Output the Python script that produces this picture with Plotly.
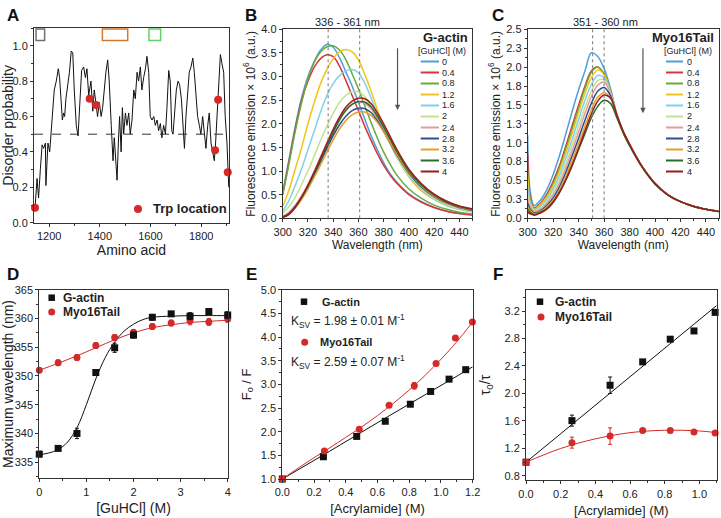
import plotly.graph_objects as go

# ---------------- Panel A: disorder profile ----------------
residue = [1143, 1145, 1152, 1158, 1165, 1172, 1178, 1185, 1187, 1195, 1202, 1211, 1220, 1228, 1236,
           1241, 1247, 1252, 1257, 1261, 1266, 1274, 1280, 1287, 1293, 1299, 1307, 1314, 1320, 1328,
           1336, 1343, 1349, 1356, 1365, 1372, 1378, 1385, 1391, 1398, 1405, 1411, 1418, 1424, 1431,
           1437, 1445, 1452, 1457, 1462, 1468, 1473, 1478, 1484, 1489, 1494, 1501, 1507, 1514, 1520,
           1527, 1534, 1540, 1547, 1553, 1560, 1566, 1573, 1580, 1586, 1593, 1599, 1606, 1613, 1619,
           1626, 1632, 1639, 1645, 1652, 1659, 1665, 1672, 1678, 1684, 1689, 1695, 1702, 1709, 1715,
           1722, 1728, 1734, 1740, 1747, 1753, 1760, 1767, 1773, 1780, 1786, 1793, 1799, 1806, 1813,
           1819, 1826, 1832, 1839, 1846, 1852, 1857, 1863, 1869, 1876, 1882, 1889, 1895, 1902, 1909]
disorder = [0.09, 0.10, 0.25, 0.14, 0.30, 0.44, 0.42, 0.45, 0.21, 0.45, 0.40, 0.60, 0.75, 0.80, 0.87,
            0.82, 0.65, 0.58, 0.62, 0.60, 0.70, 0.78, 0.85, 0.97, 0.96, 0.75, 0.55, 0.49, 0.65, 0.86,
            0.88, 0.82, 0.87, 0.72, 0.80, 0.63, 0.75, 0.67, 0.60, 0.68, 0.60, 0.65, 0.78, 0.85, 0.92,
            0.80, 0.55, 0.35, 0.48, 0.38, 0.24, 0.45, 0.60, 0.40, 0.65, 0.50, 0.62, 0.55, 0.62, 0.50,
            0.58, 0.75, 0.70, 0.85, 0.80, 0.88, 0.75, 0.82, 0.87, 0.94, 0.85, 0.60, 0.58, 0.60, 0.55,
            0.58, 0.52, 0.56, 0.48, 0.55, 0.50, 0.65, 0.86, 0.80, 0.52, 0.50, 0.60, 0.75, 0.80, 0.78,
            0.70, 0.55, 0.42, 0.60, 0.75, 0.85, 0.88, 0.93, 0.85, 0.70, 0.60, 0.55, 0.50, 0.60, 0.50,
            0.42, 0.55, 0.62, 0.45, 0.40, 0.35, 0.45, 0.60, 0.80, 0.95, 0.90, 0.85, 0.60, 0.45, 0.20]
trp_res = [1144, 1360, 1385, 1855, 1867, 1905]
trp_val = [0.085, 0.70, 0.665, 0.41, 0.694, 0.285]

# ---------------- Panel B: G-actin spectra ----------------
guhcl_labels = ["0", "0.4", "0.8", "1.2", "1.6", "2", "2.4", "2.8", "3.2", "3.6", "4"]
spec_colors = ["#4e9fd8", "#d9353a", "#6aaa3a", "#f2c318", "#7fd0ee", "#c8e08e",
               "#e59aa0", "#2d4e8e", "#e6a028", "#2b6b2b", "#9b1c1c"]
wl_b = [300, 305, 310, 315, 320, 325, 330, 335, 340, 345, 350, 355, 360, 365, 370, 375, 380, 385, 390,
        400, 410, 420, 430, 440, 450]
actin_spectra = [
    [0.55, 1.25, 1.95, 2.55, 3.00, 3.32, 3.56, 3.68, 3.62, 3.40, 3.10, 2.80, 2.45, 2.10, 1.75, 1.45, 1.18, 0.95, 0.78, 0.52, 0.35, 0.23, 0.15, 0.10, 0.07],
    [0.50, 1.20, 1.90, 2.50, 2.90, 3.20, 3.38, 3.46, 3.42, 3.22, 2.92, 2.60, 2.28, 1.95, 1.65, 1.37, 1.12, 0.92, 0.75, 0.50, 0.34, 0.23, 0.15, 0.10, 0.07],
    [0.50, 1.15, 1.85, 2.45, 2.95, 3.30, 3.52, 3.63, 3.65, 3.56, 3.36, 3.06, 2.74, 2.38, 2.03, 1.70, 1.40, 1.15, 0.93, 0.62, 0.42, 0.28, 0.19, 0.13, 0.09],
    [0.25, 0.60, 1.05, 1.50, 2.00, 2.45, 2.85, 3.15, 3.38, 3.52, 3.57, 3.52, 3.35, 3.05, 2.70, 2.30, 1.95, 1.60, 1.32, 0.88, 0.58, 0.40, 0.27, 0.19, 0.14],
    [0.15, 0.38, 0.70, 1.05, 1.45, 1.85, 2.25, 2.60, 2.85, 3.02, 3.12, 3.15, 3.08, 2.86, 2.55, 2.20, 1.90, 1.60, 1.32, 0.90, 0.60, 0.40, 0.27, 0.19, 0.14],
    [0.10, 0.25, 0.45, 0.72, 1.00, 1.32, 1.65, 1.95, 2.22, 2.45, 2.60, 2.68, 2.68, 2.58, 2.38, 2.12, 1.85, 1.58, 1.32, 0.92, 0.62, 0.42, 0.29, 0.20, 0.15],
    [0.04, 0.13, 0.28, 0.48, 0.72, 1.00, 1.30, 1.60, 1.88, 2.12, 2.30, 2.42, 2.46, 2.43, 2.32, 2.12, 1.88, 1.62, 1.37, 0.96, 0.66, 0.45, 0.31, 0.22, 0.16],
    [0.03, 0.10, 0.25, 0.44, 0.67, 0.93, 1.20, 1.48, 1.75, 1.98, 2.16, 2.28, 2.33, 2.32, 2.24, 2.06, 1.84, 1.60, 1.36, 0.96, 0.66, 0.46, 0.32, 0.23, 0.17],
    [0.02, 0.08, 0.22, 0.40, 0.62, 0.87, 1.13, 1.40, 1.66, 1.89, 2.07, 2.19, 2.25, 2.25, 2.18, 2.03, 1.83, 1.61, 1.38, 0.98, 0.68, 0.47, 0.33, 0.24, 0.18],
    [0.02, 0.09, 0.24, 0.44, 0.68, 0.95, 1.24, 1.53, 1.82, 2.08, 2.28, 2.41, 2.47, 2.46, 2.36, 2.16, 1.93, 1.68, 1.43, 1.00, 0.70, 0.49, 0.34, 0.25, 0.19],
    [0.02, 0.09, 0.24, 0.45, 0.70, 0.98, 1.28, 1.58, 1.88, 2.14, 2.35, 2.48, 2.54, 2.53, 2.43, 2.23, 2.00, 1.74, 1.48, 1.04, 0.73, 0.51, 0.36, 0.26, 0.20],
]

# ---------------- Panel C: Myo16Tail spectra ----------------
wl_c = [300, 302, 305, 310, 315, 320, 325, 330, 335, 340, 345, 350, 355, 360, 365, 370, 375, 380, 385, 390,
        400, 410, 420, 430, 440, 450]
myo_spectra = [
    [1.10, 0.35, 0.17, 0.24, 0.38, 0.58, 0.83, 1.12, 1.42, 1.70, 1.95, 2.19, 2.14, 1.98, 1.72, 1.38, 1.15, 0.98, 0.83, 0.68, 0.46, 0.31, 0.22, 0.16, 0.12, 0.09],
    [0.85, 0.28, 0.14, 0.20, 0.32, 0.49, 0.70, 0.96, 1.23, 1.50, 1.75, 1.95, 2.00, 1.90, 1.66, 1.36, 1.14, 0.97, 0.82, 0.68, 0.46, 0.31, 0.22, 0.16, 0.12, 0.09],
    [0.65, 0.25, 0.13, 0.19, 0.30, 0.46, 0.67, 0.92, 1.19, 1.46, 1.72, 1.93, 2.00, 1.91, 1.67, 1.37, 1.14, 0.97, 0.82, 0.68, 0.46, 0.31, 0.22, 0.16, 0.12, 0.09],
    [0.55, 0.22, 0.12, 0.18, 0.28, 0.43, 0.63, 0.87, 1.13, 1.40, 1.65, 1.86, 1.96, 1.90, 1.67, 1.37, 1.14, 0.97, 0.82, 0.68, 0.46, 0.31, 0.22, 0.16, 0.12, 0.09],
    [0.40, 0.20, 0.11, 0.16, 0.25, 0.39, 0.57, 0.80, 1.05, 1.31, 1.56, 1.77, 1.89, 1.86, 1.66, 1.37, 1.14, 0.97, 0.82, 0.68, 0.46, 0.31, 0.22, 0.16, 0.12, 0.09],
    [0.30, 0.17, 0.10, 0.14, 0.22, 0.35, 0.52, 0.73, 0.97, 1.22, 1.47, 1.68, 1.82, 1.83, 1.65, 1.37, 1.14, 0.97, 0.82, 0.68, 0.46, 0.31, 0.22, 0.16, 0.12, 0.09],
    [0.25, 0.15, 0.09, 0.12, 0.20, 0.31, 0.47, 0.67, 0.90, 1.14, 1.39, 1.61, 1.76, 1.80, 1.65, 1.37, 1.14, 0.97, 0.82, 0.68, 0.46, 0.31, 0.22, 0.16, 0.12, 0.09],
    [0.20, 0.12, 0.07, 0.10, 0.17, 0.27, 0.42, 0.61, 0.83, 1.06, 1.30, 1.52, 1.68, 1.73, 1.62, 1.36, 1.14, 0.97, 0.82, 0.68, 0.46, 0.31, 0.22, 0.16, 0.12, 0.09],
    [0.15, 0.10, 0.06, 0.09, 0.15, 0.24, 0.38, 0.56, 0.77, 0.99, 1.22, 1.44, 1.60, 1.66, 1.59, 1.36, 1.14, 0.97, 0.82, 0.68, 0.46, 0.31, 0.22, 0.16, 0.12, 0.09],
    [0.12, 0.08, 0.05, 0.08, 0.13, 0.22, 0.35, 0.51, 0.70, 0.91, 1.12, 1.33, 1.48, 1.56, 1.52, 1.33, 1.13, 0.96, 0.81, 0.67, 0.45, 0.31, 0.22, 0.16, 0.12, 0.09],
    [0.08, 0.06, 0.04, 0.07, 0.12, 0.21, 0.34, 0.51, 0.71, 0.93, 1.16, 1.38, 1.55, 1.63, 1.59, 1.37, 1.15, 0.98, 0.82, 0.68, 0.46, 0.31, 0.22, 0.16, 0.12, 0.09],
]

# ---------------- Panel D: max wavelength vs GuHCl ----------------
gu_conc = [0, 0.4, 0.8, 1.2, 1.6, 2.0, 2.4, 2.8, 3.2, 3.6, 4.0]
actin_lmax = [336.4, 337.4, 340.0, 350.6, 354.9, 357.1, 360.2, 360.8, 360.4, 361.2, 360.6]
actin_lmax_err = [0.5, 0.4, 0.9, 0.4, 0.8, 0.5, 0.5, 0.3, 0.6, 0.5, 0.6]
myo_lmax = [351.0, 352.3, 353.2, 355.3, 356.7, 357.6, 358.6, 359.2, 359.6, 359.4, 359.9]
myo_lmax_err = [0.3, 0.5, 0.5, 0.5, 0.5, 0.4, 0.5, 0.5, 0.7, 0.6, 0.6]
actin_fit_gu = [0, 0.2, 0.4, 0.6, 0.8, 1.0, 1.2, 1.4, 1.6, 1.8, 2.0, 2.2, 2.4, 2.8, 3.2, 3.6, 4.0]
actin_fit_lmax = [336.3, 336.6, 337.2, 338.5, 341.0, 345.0, 349.5, 353.2, 355.9, 357.8, 359.0, 359.8,
                  360.2, 360.4, 360.5, 360.5, 360.5]
myo_fit_gu = [0, 0.4, 0.8, 1.2, 1.6, 2.0, 2.4, 2.8, 3.2, 3.6, 4.0]
myo_fit_lmax = [351.0, 352.2, 353.5, 354.9, 356.3, 357.5, 358.4, 358.9, 359.3, 359.5, 359.7]

# ---------------- Panel E: Stern-Volmer ----------------
acr_actin = [0, 0.259, 0.469, 0.649, 0.807, 0.935, 1.051, 1.156]
f0f_actin = [1.0, 1.47, 1.90, 2.22, 2.58, 2.85, 3.11, 3.31]
acr_myo = [0, 0.265, 0.485, 0.673, 0.832, 0.969, 1.091, 1.198]
f0f_myo = [1.0, 1.59, 2.05, 2.56, 2.97, 3.44, 3.98, 4.32]
f0f_myo_err = [0, 0.03, 0.03, 0.03, 0.07, 0.04, 0.04, 0.04]
f0f_actin_err = [0, 0.03, 0.03, 0.04, 0.03, 0.03, 0.03, 0.03]
fitE_actin_x = [0, 0.3, 0.6, 0.9, 1.2]
fitE_actin_y = [1.0, 1.59, 2.19, 2.78, 3.37]
fitE_myo_x = [0, 0.1, 0.2, 0.3, 0.4, 0.5, 0.6, 0.7, 0.8, 0.9, 1.0, 1.1, 1.2]
fitE_myo_y = [1.0, 1.23, 1.45, 1.66, 1.88, 2.10, 2.34, 2.60, 2.88, 3.19, 3.53, 3.90, 4.32]

# ---------------- Panel F: lifetime quenching ----------------
acr_f = [0, 0.265, 0.485, 0.673, 0.832, 0.969, 1.091]
tau_actin = [1.0, 1.605, 2.12, 2.46, 2.79, 2.91, 3.18]
tau_actin_err = [0, 0.08, 0.12, 0.03, 0.03, 0.03, 0.03]
tau_myo = [1.0, 1.285, 1.38, 1.46, 1.46, 1.44, 1.425]
tau_myo_err = [0, 0.08, 0.12, 0.03, 0.03, 0.03, 0.03]
fitF_actin_x = [0, 1.1]
fitF_actin_y = [1.0, 3.28]
fitF_myo_x = [0, 0.2, 0.4, 0.6, 0.8, 1.0, 1.1]
fitF_myo_y = [1.0, 1.2, 1.34, 1.43, 1.465, 1.455, 1.43]

# ---------------- figure ----------------
W, H = 721, 518
FONT = "Liberation Sans, Arial, sans-serif"
RED = "#d42a2a"
BLK = "#111111"


def px(x):
    return x / W


def py(y):
    return 1 - y / H


fig = go.Figure()

# A
fig.add_trace(go.Scatter(x=residue, y=disorder, mode="lines", line=dict(color=BLK, width=1),
                         xaxis="x", yaxis="y", showlegend=False))
fig.add_trace(go.Scatter(x=trp_res, y=trp_val, mode="markers", cliponaxis=False,
                         marker=dict(color=RED, size=8), xaxis="x", yaxis="y", showlegend=False))

# B, C
for lab, col, ys in zip(guhcl_labels, spec_colors, actin_spectra):
    fig.add_trace(go.Scatter(x=wl_b, y=ys, mode="lines", line=dict(color=col, width=1.5, shape="spline"),
                             xaxis="x2", yaxis="y2", showlegend=False, name=lab))
for lab, col, ys in zip(guhcl_labels, spec_colors, myo_spectra):
    fig.add_trace(go.Scatter(x=wl_c, y=ys, mode="lines", line=dict(color=col, width=1.5, shape="spline"),
                             xaxis="x3", yaxis="y3", showlegend=False, name=lab))

# D
fig.add_trace(go.Scatter(x=actin_fit_gu, y=actin_fit_lmax, mode="lines", line=dict(color=BLK, width=1, shape="spline"),
                         xaxis="x4", yaxis="y4", showlegend=False))
fig.add_trace(go.Scatter(x=myo_fit_gu, y=myo_fit_lmax, mode="lines", line=dict(color=RED, width=1, shape="spline"),
                         xaxis="x4", yaxis="y4", showlegend=False))
fig.add_trace(go.Scatter(x=gu_conc, y=myo_lmax, mode="markers", cliponaxis=False,
                         error_y=dict(type="data", array=myo_lmax_err, color=RED, thickness=1, width=2),
                         marker=dict(color=RED, size=7, symbol="circle"), xaxis="x4", yaxis="y4", showlegend=False))
fig.add_trace(go.Scatter(x=gu_conc, y=actin_lmax, mode="markers", cliponaxis=False,
                         error_y=dict(type="data", array=actin_lmax_err, color=BLK, thickness=1, width=2),
                         marker=dict(color=BLK, size=7, symbol="square"), xaxis="x4", yaxis="y4", showlegend=False))

# E
fig.add_trace(go.Scatter(x=fitE_actin_x, y=fitE_actin_y, mode="lines", line=dict(color=BLK, width=1, shape="spline"),
                         xaxis="x5", yaxis="y5", showlegend=False))
fig.add_trace(go.Scatter(x=fitE_myo_x, y=fitE_myo_y, mode="lines", line=dict(color=RED, width=1, shape="spline"),
                         xaxis="x5", yaxis="y5", showlegend=False))
fig.add_trace(go.Scatter(x=acr_actin, y=f0f_actin, mode="markers", cliponaxis=False,
                         error_y=dict(type="data", array=f0f_actin_err, color=BLK, thickness=1, width=2),
                         marker=dict(color=BLK, size=7, symbol="square"), xaxis="x5", yaxis="y5", showlegend=False))
fig.add_trace(go.Scatter(x=acr_myo, y=f0f_myo, mode="markers", cliponaxis=False,
                         error_y=dict(type="data", array=f0f_myo_err, color=RED, thickness=1, width=2),
                         marker=dict(color=RED, size=7, symbol="circle"), xaxis="x5", yaxis="y5", showlegend=False))

# F
fig.add_trace(go.Scatter(x=fitF_actin_x, y=fitF_actin_y, mode="lines", line=dict(color=BLK, width=1),
                         xaxis="x6", yaxis="y6", showlegend=False))
fig.add_trace(go.Scatter(x=fitF_myo_x, y=fitF_myo_y, mode="lines", line=dict(color=RED, width=1, shape="spline"),
                         xaxis="x6", yaxis="y6", showlegend=False))
fig.add_trace(go.Scatter(x=acr_f, y=tau_actin, mode="markers", cliponaxis=False,
                         error_y=dict(type="data", array=tau_actin_err, color=BLK, thickness=1, width=2),
                         marker=dict(color=BLK, size=7, symbol="square"), xaxis="x6", yaxis="y6", showlegend=False))
fig.add_trace(go.Scatter(x=acr_f, y=tau_myo, mode="markers", cliponaxis=False,
                         error_y=dict(type="data", array=tau_myo_err, color=RED, thickness=1, width=2),
                         marker=dict(color=RED, size=7, symbol="circle"), xaxis="x6", yaxis="y6", showlegend=False))


def axis(dom, rng, tickfs, title, titlefs, standoff, **kw):
    d = dict(domain=dom, range=rng, showline=True, mirror=True, linecolor="#333", linewidth=1,
             ticks="outside", ticklen=3, tickcolor="#333", showgrid=False, zeroline=False, automargin=False,
             tickfont=dict(size=tickfs, color="#222", family=FONT),
             title=dict(text=title, font=dict(size=titlefs, color="#222", family=FONT), standoff=standoff))
    d.update(kw)
    return d


def xd(a, b):
    return [px(a), px(b)]


def yd(top, bot):
    return [py(bot), py(top)]


minor = lambda dt: dict(ticks="outside", ticklen=2, dtick=dt, tickcolor="#333")

layout = dict(
    template="none",
    width=W, height=H, margin=dict(l=0, r=0, t=0, b=0, autoexpand=False),
    paper_bgcolor="white", plot_bgcolor="white", font=dict(family=FONT, color="#222"),
    showlegend=False,
    xaxis=axis(xd(34, 229), [1140, 1910], 11, "Amino acid", 14, 4, anchor="y",
               tickvals=[1200, 1400, 1600, 1800], minor=minor(100)),
    yaxis=axis(yd(28, 222.7), [0, 1.1], 11, "Disorder probability", 14, 5, anchor="x",
               dtick=0.2, tickformat=".1f", minor=minor(0.1)),
    xaxis2=axis(xd(282.7, 472), [300, 450], 11, "Wavelength (nm)", 12, 4, anchor="y2",
                dtick=20, minor=minor(10)),
    yaxis2=axis(yd(29.3, 218.3), [0, 4], 11, "Fluorescence emission × 10<sup>6</sup> (a.u.)", 12, 3,
                anchor="x2", dtick=0.5, tickformat=".1f", minor=minor(0.25)),
    xaxis3=axis(xd(527.7, 718.7), [300, 450], 11, "Wavelength (nm)", 12, 4, anchor="y3",
                dtick=20, minor=minor(10)),
    yaxis3=axis(yd(29.3, 218.3), [0, 2.5], 11, "Fluorescence emission × 10<sup>6</sup> (a.u.)", 12, 3,
                anchor="x3", tickvals=[0, 0.25, 0.5, 0.75, 1.0, 1.25, 1.5, 1.75, 2.0, 2.25, 2.5],
                ticktext=["0.0", "0.3", "0.5", "0.8", "1.0", "1.3", "1.5", "1.8", "2.0", "2.3", "2.5"],
                minor=minor(0.125)),
    xaxis4=axis(xd(39.3, 227.7), [0, 4], 11, "[GuHCl] (M)", 14, 6, anchor="y4", dtick=1, minor=minor(0.5)),
    yaxis4=axis(yd(289.7, 478.3), [332.2, 365], 11, "Maximum wavelength (nm)", 14, 4, anchor="x4",
                tickvals=[335, 340, 345, 350, 355, 360, 365], minor=minor(2.5)),
    xaxis5=axis(xd(282.3, 472.7), [0, 1.2], 11, "[Acrylamide] (M)", 13, 6, anchor="y5",
                dtick=0.2, tickformat=".1f", minor=minor(0.1)),
    yaxis5=axis(yd(289.7, 479), [1.0, 5.0], 11, "F<sub>o</sub> / F", 13, 6, anchor="x5",
                dtick=0.5, tickformat=".1f", minor=minor(0.25)),
    xaxis6=axis(xd(526, 716.7), [0, 1.1], 11, "[Acrylamide] (M)", 13, 8, anchor="y6",
                dtick=0.2, tickformat=".1f", minor=minor(0.1)),
    yaxis6=axis(yd(289.7, 480.3), [0.737, 3.51], 11, "τ<sub>0</sub>/τ", 14, 10, anchor="x6",
                tickvals=[0.8, 1.2, 1.6, 2.0, 2.4, 2.8, 3.2], ticktext=["0.8", "1.2", "1.6", "2.0", "2.4", "2.8", "3.2"],
                minor=minor(0.2)),
)

shapes = []
annotations = []

# Panel A decorations
shapes.append(dict(type="line", xref="x domain", yref="y", x0=0, x1=1, y0=0.5, y1=0.5,
                   line=dict(color="#333", width=1, dash="dash")))
for (r0, r1, c) in [(1148, 1182, "#707070"), (1410, 1510, "#d9782b"), (1594, 1640, "#5fcf6a")]:
    shapes.append(dict(type="rect", xref="x", yref="y", x0=r0, x1=r1, y0=1.03, y1=1.094,
                       line=dict(color=c, width=1.5), fillcolor="rgba(0,0,0,0)"))

# vertical dotted lines B & C
for xr, yr, xs in [("x2", "y2 domain", [336, 361]), ("x3", "y3 domain", [351, 360])]:
    for xv in xs:
        shapes.append(dict(type="line", xref=xr, yref=yr, x0=xv, x1=xv, y0=0, y1=1,
                           line=dict(color="#777", width=1, dash="dot")))


def marker_shape(kind, cx, cy, s, color):
    return dict(type="rect" if kind == "sq" else "circle", xref="paper", yref="paper",
                x0=px(cx - s / 2), x1=px(cx + s / 2), y0=py(cy + s / 2), y1=py(cy - s / 2),
                fillcolor=color, line=dict(color=color, width=0))


def text(x, y, s, size, bold=False, anchor="left", color="#222"):
    annotations.append(dict(x=px(x), y=py(y), xref="paper", yref="paper", text=("<b>%s</b>" % s) if bold else s,
                            showarrow=False, xanchor=anchor, yanchor="middle",
                            font=dict(size=size, color=color, family=FONT)))


# panel letters
for L, x, y in [("A", 13, 15), ("B", 251, 15), ("C", 498, 15), ("D", 13, 274), ("E", 251, 274), ("F", 498, 274)]:
    annotations.append(dict(x=px(x), y=py(y), xref="paper", yref="paper", text="<b>%s</b>" % L,
                            showarrow=False, xanchor="center", yanchor="middle",
                            font=dict(size=17, color="#111", family=FONT)))

# A legend
shapes.append(marker_shape("ci", 138, 209, 8, RED))
text(151, 209, "Trp location", 13, bold=True)

# B/C headers and legends
text(347.5, 22.5, "336 - 361 nm", 11, anchor="center")
text(605, 22.5, "351 - 360 nm", 11, anchor="center")
text(470, 38, "G-actin", 13, bold=True, anchor="right")
text(468, 51.5, "[GuHCl] (M)", 9, anchor="right")
text(716, 38, "Myo16Tail", 13, bold=True, anchor="right")
text(714, 51.5, "[GuHCl] (M)", 9, anchor="right")
for i, (lab, col) in enumerate(zip(guhcl_labels, spec_colors)):
    yy = 61.5 + 11 * i
    shapes.append(dict(type="line", xref="paper", yref="paper", x0=px(420.7), x1=px(439), y0=py(yy), y1=py(yy),
                       line=dict(color=col, width=2)))
    text(440.5, yy, lab, 9)
    shapes.append(dict(type="line", xref="paper", yref="paper", x0=px(666), x1=px(683), y0=py(yy), y1=py(yy),
                       line=dict(color=col, width=2)))
    text(684.5, yy, lab, 9)

# arrows
annotations.append(dict(x=391, y=2.29, ax=391, ay=3.63, xref="x2", yref="y2", axref="x2", ayref="y2",
                        showarrow=True, arrowhead=2, arrowsize=0.9, arrowwidth=1.2, arrowcolor="#555", text=""))
annotations.append(dict(x=390.5, y=1.39, ax=390.5, ay=2.27, xref="x3", yref="y3", axref="x3", ayref="y3",
                        showarrow=True, arrowhead=2, arrowsize=0.9, arrowwidth=1.2, arrowcolor="#555", text=""))

# D legend
shapes.append(marker_shape("sq", 51.7, 297.7, 6.5, BLK))
text(61, 297.7, "G-actin", 12, bold=True)
shapes.append(marker_shape("ci", 51.7, 312, 7, RED))
text(61, 312, "Myo16Tail", 12, bold=True)

# E legend
shapes.append(marker_shape("sq", 304, 301.7, 6.5, BLK))
text(320, 301.7, "G-actin", 11, bold=True)
text(288.5, 321, "K<sub>SV</sub> = 1.98 ± 0.01 M<sup>-1</sup>", 12)
shapes.append(marker_shape("ci", 304.7, 342.3, 7, RED))
text(318, 342.3, "Myo16Tail", 11, bold=True)
text(288.5, 362.3, "K<sub>SV</sub> = 2.59 ± 0.07 M<sup>-1</sup>", 12)

# F legend
shapes.append(marker_shape("sq", 540, 301.7, 6.5, BLK))
text(553, 301.7, "G-actin", 12, bold=True)
shapes.append(marker_shape("ci", 541, 317, 7, RED))
text(553, 317, "Myo16Tail", 12, bold=True)

layout["shapes"] = shapes
layout["annotations"] = annotations
fig.update_layout(**layout)
fig.write_html("out.html", post_script="document.body.style.margin='0';",
               config={"displayModeBar": False})
